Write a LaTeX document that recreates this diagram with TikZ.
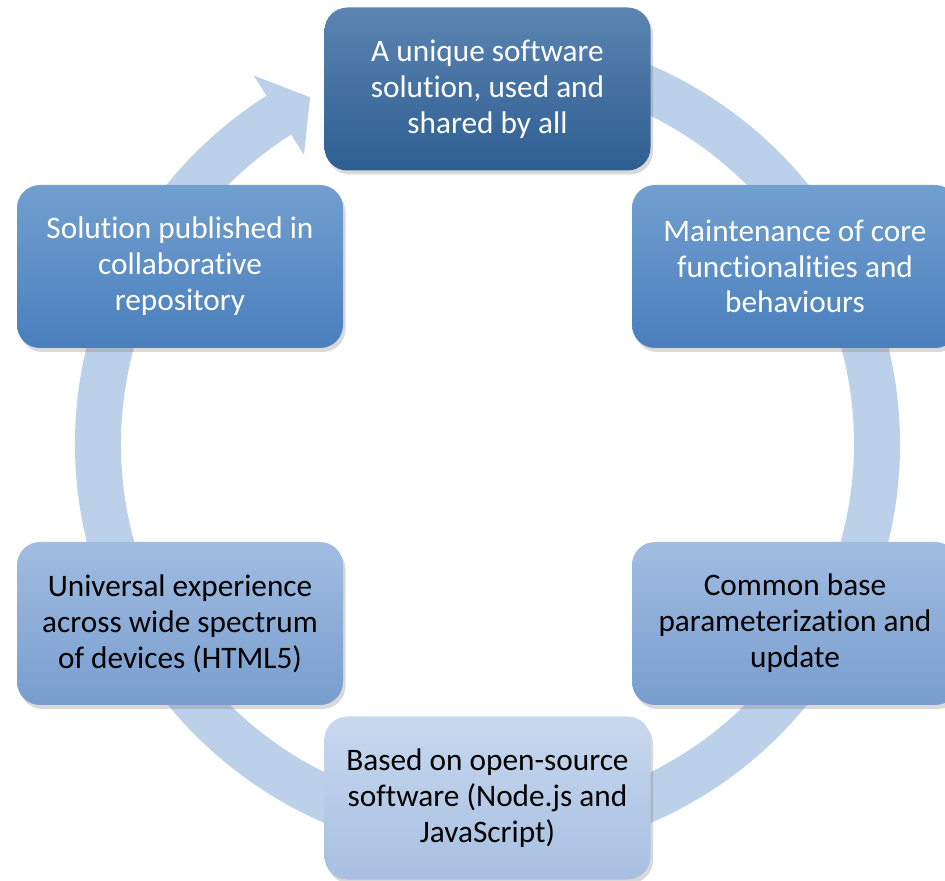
\documentclass[tikz,border=0pt]{standalone}
\usepackage{fontspec}
\setmainfont{Carlito}[Ligatures=NoCommon]
\usetikzlibrary{shadows}

\definecolor{ringblue}{RGB}{189,208,233}
\definecolor{darktop}{RGB}{91,132,177}
\definecolor{darkbot}{RGB}{46,94,146}
\definecolor{midtop}{RGB}{114,159,207}
\definecolor{midbot}{RGB}{74,127,189}
\definecolor{lighttop}{RGB}{161,189,225}
\definecolor{lightbot}{RGB}{120,157,206}
\definecolor{palebtop}{RGB}{200,216,238}
\definecolor{palebot}{RGB}{167,191,226}

\begin{document}
\begin{tikzpicture}[
    box/.style={rounded corners=0.46cm, minimum width=6.52cm, minimum height=3.26cm,
        align=center, font=\fontsize{17.8}{20.4}\selectfont,
        drop shadow={shadow xshift=0.05cm, shadow yshift=-0.08cm, opacity=0.3}},
    darkbox/.style={box, top color=darktop, bottom color=darkbot, text=white},
    midbox/.style={box, top color=midtop, bottom color=midbot, text=white},
    lightbox/.style={box, top color=lighttop, bottom color=lightbot, text=black},
    palebox/.style={box, top color=palebtop, bottom color=palebot, text=black}]
    \useasboundingbox (0,0) rectangle (18.9,17.6);
    % circular arrow
    \begin{scope}[shift={(9.75,8.72)}]
        \fill[ringblue] (100:8.25) arc[start angle=100, end angle=-237.6, radius=8.25]
            -- (-237.6:8.73) -- (-242.9:7.79) -- (-237.6:6.85) -- (-237.6:7.33)
            arc[start angle=-237.6, end angle=100, radius=7.33] -- cycle;
    \end{scope}
    \node[darkbox] (sol) at (9.75,15.82) {A unique software\\solution, used and\\shared by all};
    \node[midbox] (maint) at (15.9,12.27) {Maintenance of core\\functionalities and\\behaviours};
    \node[lightbox] (param) at (15.9,5.13) {Common base\\parameterization and\\update};
    \node[palebox] (open) at (9.75,1.64) {Based on open-source\\software (Node.js and\\JavaScript)};
    \node[lightbox] (html) at (3.6,5.13) {Universal experience\\across wide spectrum\\of devices (HTML5)};
    \node[midbox] (repo) at (3.6,12.27) {Solution published in\\collaborative\\repository};
\end{tikzpicture}
\end{document}
